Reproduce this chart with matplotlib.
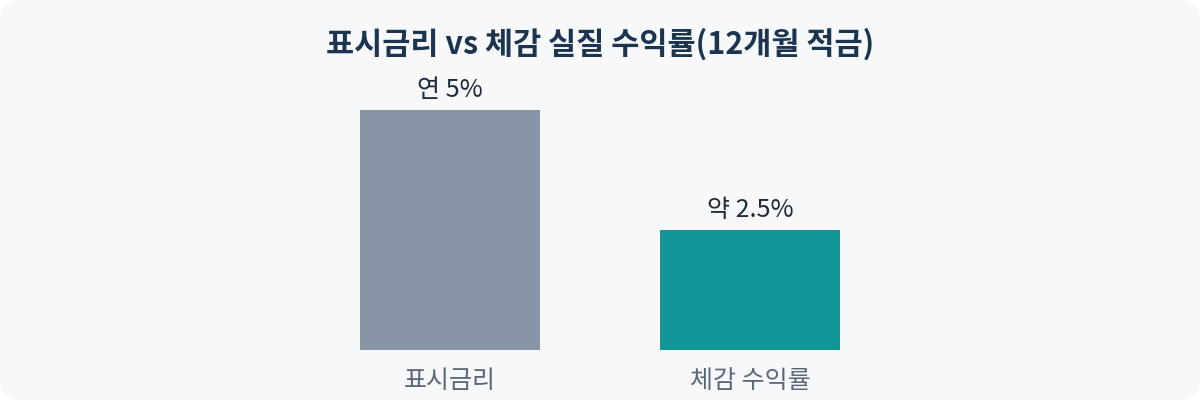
import matplotlib.pyplot as plt
from matplotlib.patches import FancyBboxPatch

plt.rcParams['font.family'] = ['Noto Sans CJK KR', 'DejaVu Sans']

categories = ['표시금리', '체감 수익률']
values = [5, 2.5]
value_labels = ['연 5%', '약 2.5%']
colors = ['#8795a6', '#119596']

fig = plt.figure(figsize=(12, 4), dpi=100)
fig.patch.set_facecolor('white')
bg = FancyBboxPatch((0, 0), 1, 1, boxstyle='round,pad=0,rounding_size=0.018',
                    transform=fig.transFigure, facecolor='#f7f8fa', edgecolor='none',
                    mutation_aspect=3, zorder=-10)
fig.add_artist(bg)

ax = fig.add_axes([0.25, 0.125, 0.5, 0.72])
ax.set_facecolor('none')
x = range(len(categories))
bars = ax.bar(x, values, width=0.6, color=colors)
for b, lab in zip(bars, value_labels):
    ax.text(b.get_x() + b.get_width() / 2, b.get_height() + 0.14, lab,
            ha='center', va='bottom', fontsize=18, color='#1e2a38')

ax.set_xlim(-0.5, 1.5)
ax.set_ylim(0, 6)
ax.set_xticks(list(x))
ax.set_xticklabels(categories, fontsize=18, color='#5b6878')
ax.tick_params(axis='x', length=0, pad=13)
ax.set_yticks([])
for s in ax.spines.values():
    s.set_visible(False)

fig.text(0.5, 0.89, '표시금리 vs 체감 실질 수익률(12개월 적금)', ha='center', va='center',
         fontsize=22, fontweight='bold', color='#1b3551')

fig.savefig('out.png', dpi=100, facecolor=fig.get_facecolor())
